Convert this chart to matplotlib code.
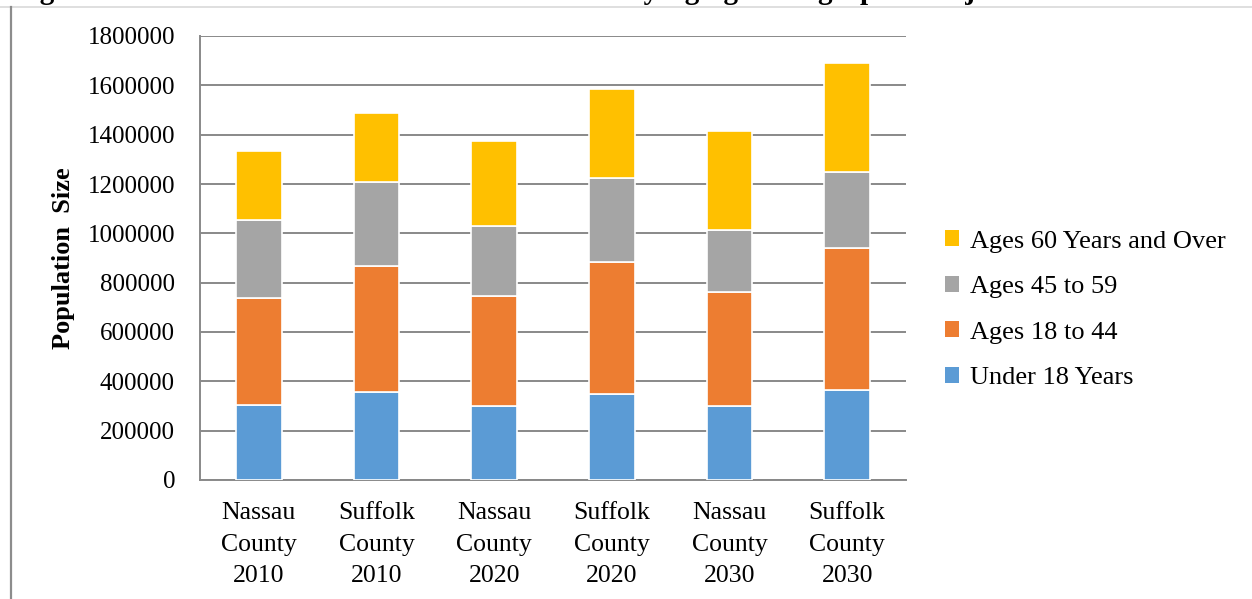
import matplotlib
matplotlib.use("Agg")
import matplotlib.pyplot as plt
import numpy as np
from matplotlib.lines import Line2D
from matplotlib.patches import Patch

categories = ["Nassau\nCounty\n2010", "Suffolk\nCounty\n2010", "Nassau\nCounty\n2020",
              "Suffolk\nCounty\n2020", "Nassau\nCounty\n2030", "Suffolk\nCounty\n2030"]
under_18 = [306000, 355000, 298000, 347000, 298000, 363000]
ages_18_44 = [431000, 512000, 447000, 536000, 463000, 577000]
ages_45_59 = [316000, 341000, 285000, 342000, 252000, 309000]
ages_60_over = [282000, 281000, 345000, 362000, 403000, 443000]
series_names = ["Under 18 Years", "Ages 18 to 44", "Ages 45 to 59", "Ages 60 Years and Over"]
colors = ["#5B9BD5", "#ED7D31", "#A5A5A5", "#FFC000"]
y_ticks = list(range(0, 1800001, 200000))

plt.rcParams['font.family'] = ['Liberation Serif', 'DejaVu Serif']

fig = plt.figure(figsize=(12.52, 5.99), dpi=100)
ax = fig.add_axes([200/1252, 119/599, 706/1252, 444/599])

x = np.arange(len(categories))
bottom = np.zeros(len(categories))
series = [under_18, ages_18_44, ages_45_59, ages_60_over]
for vals, name, col in zip(series, series_names, colors):
    ax.bar(x, vals, width=0.39, bottom=bottom, color=col, edgecolor='white',
           linewidth=1.2, label=name, zorder=3)
    bottom += np.array(vals)

ax.set_xlim(-0.5, len(categories) - 0.5)
ax.set_ylim(0, 1800000)
ax.set_yticks(y_ticks)
ax.set_yticklabels([str(v) for v in y_ticks])
ax.set_xticks(x)
ax.set_xticklabels(categories, linespacing=1.56)
ax.grid(axis='y', color='#898989', linewidth=1.4, zorder=0)
ax.tick_params(axis='y', length=0, pad=18, labelsize=18)
ax.tick_params(axis='x', length=0, pad=16, labelsize=18.5)
for s in ['top', 'right']:
    ax.spines[s].set_visible(False)
for s in ['left', 'bottom']:
    ax.spines[s].set_color('#898989')
    ax.spines[s].set_linewidth(1.4)

ax.set_ylabel("Population  Size", fontsize=19, fontweight='bold', labelpad=9)

handles = [Patch(facecolor=c, edgecolor='none') for c in colors][::-1]
labels = series_names[::-1]
fig.legend(handles, labels, loc='center left', bbox_to_anchor=(0.744, 0.483),
           frameon=False, fontsize=19, handlelength=0.55, handleheight=0.55,
           handletextpad=0.4, labelspacing=0.88, borderpad=0)

# frame lines
fig.add_artist(Line2D([0, 1], [1 - 7/599, 1 - 7/599], transform=fig.transFigure,
                      color='#d9d9d9', linewidth=1.2))
fig.add_artist(Line2D([11/1252, 11/1252], [0, 1 - 7/599], transform=fig.transFigure,
                      color='#8c8c8c', linewidth=1.6))

# clipped title (only descenders visible in the reference)
fig.text(14/1252, 1 + 1/599, "Figure 4: Nassau and Suffolk Counties Residents by Aging Demographic Projections",
         fontsize=21, fontweight='bold', ha='left', va='baseline')

fig.savefig("out.png", dpi=100)
